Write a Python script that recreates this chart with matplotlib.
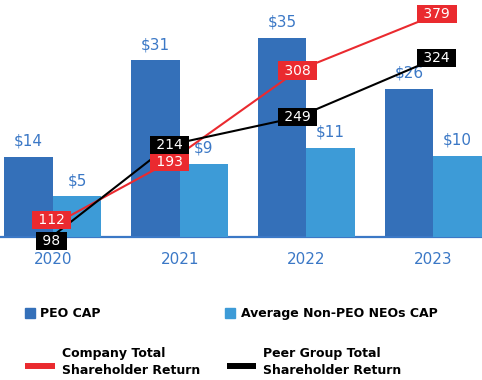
import matplotlib
matplotlib.use("Agg")
import matplotlib.pyplot as plt
from matplotlib.patches import Rectangle
from matplotlib.lines import Line2D
import numpy as np

plt.rcParams['font.family'] = ['DejaVu Sans']

years = ["2020", "2021", "2022", "2023"]
peo_cap = [14, 31, 35, 26]
non_peo_cap = [5, 9, 11, 10]
company_tsr = [112, 193, 308, 379]
peer_tsr = [98, 214, 249, 324]

C_PEO = "#3470b9"
C_NON = "#3d9bd7"
C_TXT = "#3b78c6"
C_RED = "#ea2a2f"
C_BLK = "#000000"

W, H = 482, 380
fig = plt.figure(figsize=(W / 100, H / 100), dpi=100)

def fx(px):
    return px / W

def fy(py):
    return 1 - py / H

ax1 = fig.add_axes([0, fy(237), 1, fy(0) - fy(237)])
ax2 = ax1.twinx()
ax3 = ax1.twinx()

x = np.arange(len(years))
bw = 0.383
ax1.bar(x - bw / 2, peo_cap, width=bw, color=C_PEO, zorder=2)
ax2.bar(x + bw / 2, non_peo_cap, width=bw, color=C_NON, zorder=2)

for xi, v in zip(x, peo_cap):
    ax1.annotate(f"${v}", (xi - bw / 2, v), xytext=(0, 6), textcoords="offset points",
                 ha="center", va="bottom", color=C_TXT, fontsize=11)
for xi, v in zip(x, non_peo_cap):
    ax2.annotate(f"${v}", (xi + bw / 2, v), xytext=(0, 6), textcoords="offset points",
                 ha="center", va="bottom", color=C_TXT, fontsize=11)

ax1.set_xlim(-0.418, 3.386)
ax1.set_ylim(0, 41.6)
ax2.set_ylim(0, 29.2)
ax3.set_ylim(97.7, 397.1)

# horizontal placement tweak of the TSR markers within each year group
tsr_shift = np.array([-0.01, -0.08, -0.07, 0.03])
tx = x + tsr_shift

ax3.plot(tx, company_tsr, color=C_RED, lw=1.5, zorder=3)
ax3.plot(tx, peer_tsr, color=C_BLK, lw=1.5, zorder=3)

# label offsets (points) to avoid overlap at 2020
red_off = [4, 0, 0, 0]
blk_off = [-3, 0, 0, 0]
for xi, v, o in zip(tx, company_tsr, red_off):
    ax3.annotate(f" {v} ", (xi, v), xytext=(0, o), textcoords="offset points",
                 ha="center", va="center", color="white", fontsize=10,
                 bbox=dict(boxstyle="square,pad=0.15", fc=C_RED, ec="none"),
                 zorder=5, annotation_clip=False)
for xi, v, o in zip(tx, peer_tsr, blk_off):
    ax3.annotate(f" {v} ", (xi, v), xytext=(0, o), textcoords="offset points",
                 ha="center", va="center", color="white", fontsize=10,
                 bbox=dict(boxstyle="square,pad=0.15", fc=C_BLK, ec="none"),
                 zorder=5, annotation_clip=False)

for a in (ax1, ax2, ax3):
    for s in a.spines.values():
        s.set_visible(False)
    a.set_yticks([])
    a.patch.set_visible(False)

ax1.spines['bottom'].set_visible(True)
ax1.spines['bottom'].set_color(C_TXT)
ax1.spines['bottom'].set_linewidth(1.6)
ax1.set_xticks(x)
ax1.set_xticklabels(years, color=C_TXT, fontsize=11)
ax1.tick_params(axis='x', length=0, pad=11)

# legend (manual)
fig.add_artist(Rectangle((fx(25), fy(318)), fx(10), fy(308) - fy(318),
                         transform=fig.transFigure, color=C_PEO))
fig.text(fx(40), fy(313.5), "PEO CAP", fontsize=9, fontweight="bold", va="center", ha="left")
fig.add_artist(Rectangle((fx(225), fy(318)), fx(10), fy(308) - fy(318),
                         transform=fig.transFigure, color=C_NON))
fig.text(fx(241), fy(313.5), "Average Non-PEO NEOs CAP", fontsize=9, fontweight="bold",
         va="center", ha="left")

fig.add_artist(Line2D([fx(25), fx(55)], [fy(366), fy(366)], transform=fig.transFigure,
                      color=C_RED, lw=4.3, solid_capstyle="butt"))
fig.text(fx(62), fy(347), "Company Total\nShareholder Return", fontsize=9, fontweight="bold",
         va="top", ha="left", linespacing=1.4)
fig.add_artist(Line2D([fx(227), fx(256)], [fy(366), fy(366)], transform=fig.transFigure,
                      color=C_BLK, lw=4.3, solid_capstyle="butt"))
fig.text(fx(263), fy(347), "Peer Group Total\nShareholder Return", fontsize=9, fontweight="bold",
         va="top", ha="left", linespacing=1.4)

fig.savefig("out.png", dpi=100)
